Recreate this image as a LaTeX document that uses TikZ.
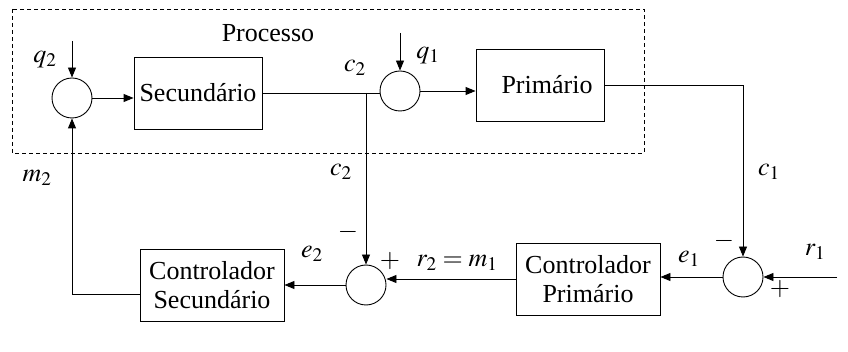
\documentclass[tikz,border=0pt]{standalone}
\usepackage{mathptmx}
\usepackage{fontspec}
\setmainfont{Liberation Serif}
\usepackage{tikz}
\usetikzlibrary{arrows.meta,positioning,calc}

\begin{document}
\begin{tikzpicture}[
            x=1pt,y=-1pt,
            font=\fontsize{26}{29}\selectfont,
            line width=0.9pt,
            block/.style={draw,align=center,minimum width=128pt,minimum height=72pt,inner sep=0pt},
            sumnode/.style={draw,circle,minimum size=40pt,inner sep=0pt},
            arrow/.style={-{Triangle[length=10pt,width=8pt]}},
            lbl/.style={inner sep=0pt}
        ]
            \useasboundingbox (0,0) rectangle (848,352);
            % process boundary
            \draw[dash pattern=on 4pt off 3pt,line width=0.7pt] (12,9) rectangle (644,153);
            \node[lbl] (proc) at (268,33) {Processo};
            % forward path
            \node[sumnode] (sumsec) at (72,98) {};
            \node[block] (sec) at (198,93) {Secund\'ario};
            \node[sumnode] (sumprim) at (400,91) {};
            \node[block] (prim) at (540,85) {\hspace{14pt}Prim\'ario};
            % controllers
            \node[sumnode] (cmpprim) at (743,277) {};
            \node[block,minimum width=144pt] (ctrlprim) at (588,279) {Controlador\\Prim\'ario};
            \node[sumnode] (cmpsec) at (366,285) {};
            \node[block,minimum width=144pt] (ctrlsec) at (212,285) {Controlador\\Secund\'ario};
            % free ends
            \coordinate (q2in) at (72,41);
            \coordinate (q1in) at (400,33);
            \coordinate (r1in) at (837,277);
            \coordinate (br) at ($(sec.east -| cmpsec.north)$);
            % connectors
            \draw[arrow] (q2in) -- (sumsec.north);
            \draw[arrow] (sumsec.east) -- (sumsec.east -| sec.west);
            \draw (sec.east) -- (sec.east -| sumprim.west);
            \draw[arrow] (q1in) -- (sumprim.north);
            \draw[arrow] (sumprim.east) -- (sumprim.east -| prim.west);
            \draw[arrow] (prim.east) -| (cmpprim.north);
            \draw[arrow] (r1in) -- (cmpprim.east);
            \draw[arrow] (cmpprim.west) -- (cmpprim.west -| ctrlprim.east);
            \draw[arrow] (ctrlprim.west) -- (ctrlprim.west -| cmpsec.east);
            \draw[arrow] (br) -- (cmpsec.north);
            \draw[arrow] (cmpsec.west) -- (cmpsec.west -| ctrlsec.east);
            \draw[arrow] ([yshift=-9pt]ctrlsec.west) -| (sumsec.south);
            % signal labels
            \node[lbl] (lq2) at (45,60) {$q_2$};
            \node[lbl] (lc2a) at (355,68) {$c_2$};
            \node[lbl] (lq1) at (428,56) {$q_1$};
            \node[lbl] (lc2b) at (341,172) {$c_2$};
            \node[lbl] (lm2) at (37,178) {$m_2$};
            \node[lbl] (lc1) at (769,172) {$c_1$};
            \node[lbl] (lminsec) at (348,232) {$-$};
            \node[lbl] (lplussec) at (390,261) {$+$};
            \node[lbl] (le2) at (312,254) {$e_2$};
            \node[lbl] (lr2) at (457,263) {$r_2=m_1$};
            \node[lbl] (le1) at (689,259) {$e_1$};
            \node[lbl] (lminprim) at (724,241) {$-$};
            \node[lbl] (lr1) at (815,252) {$r_1$};
            \node[lbl] (lplusprim) at (780,289) {$+$};
        \end{tikzpicture}
\end{document}
